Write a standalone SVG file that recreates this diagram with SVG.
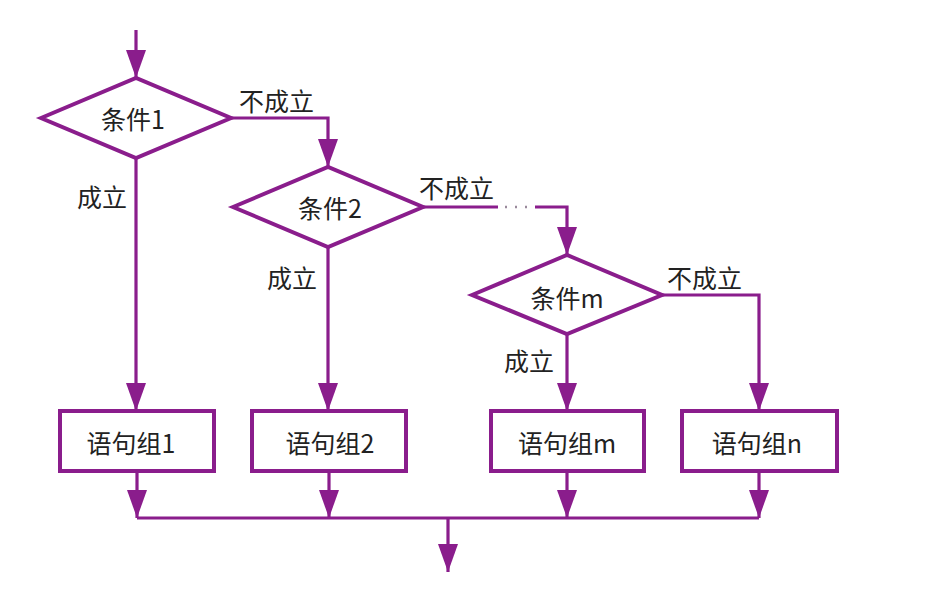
<svg xmlns="http://www.w3.org/2000/svg" width="952" height="593" viewBox="0 0 952 593">
<defs>
<marker id="ahd" markerUnits="userSpaceOnUse" markerWidth="28" markerHeight="20" refX="28" refY="10" orient="auto" viewBox="0 0 28 20">
<path d="M0,0 L28,10 L0,20 Z" fill="#8a1d8c"/>
</marker>
</defs>
<style>
.sh{fill:#fff;stroke:#8a1d8c;stroke-width:4;stroke-linejoin:miter}
.ln{fill:none;stroke:#8a1d8c;stroke-width:3.2}
.ar{marker-end:url(#ahd)}
.t{font-family:"Noto Sans CJK SC","Liberation Sans",sans-serif;font-size:25px;fill:#222;dominant-baseline:central}
.c{text-anchor:middle}
</style>
<rect width="952" height="593" fill="#ffffff"/>
<g id="connectors">
<path class="ln ar" d="M136,30 V78"/>
<path class="ln ar" d="M231,118 H328 V167"/>
<path class="ln ar" d="M136,158 V411"/>
<path class="ln" d="M423,207 H498"/>
<path class="ln" d="M505,207 H530" stroke-dasharray="2,8" style="stroke:#9a8a9c;stroke-width:2.5"/>
<path class="ln ar" d="M535,207 H567 V255"/>
<path class="ln ar" d="M328,247 V411"/>
<path class="ln ar" d="M567,334 V411"/>
<path class="ln ar" d="M662,295 H759 V411"/>
<path class="ln ar" d="M137,471 V518"/>
<path class="ln ar" d="M329,471 V518"/>
<path class="ln ar" d="M567,471 V518"/>
<path class="ln ar" d="M759,471 V518"/>
<path class="ln" d="M137,518 H759"/>
<path class="ln ar" d="M448,518 V572"/>
<text class="t" x="239" y="100">不成立</text>
<text class="t" x="77" y="196">成立</text>
<text class="t" x="419" y="187">不成立</text>
<text class="t" x="267" y="277">成立</text>
<text class="t" x="667" y="277">不成立</text>
<text class="t" x="504" y="360">成立</text>
</g>
<g id="cond1">
<polygon class="sh" points="41,118 136,78 231,118 136,158"/>
<text class="t c" x="133" y="118">条件1</text>
</g>
<g id="cond2">
<polygon class="sh" points="233,207 328,167 423,207 328,247"/>
<text class="t c" x="330" y="207">条件2</text>
</g>
<g id="condm">
<polygon class="sh" points="472,295 567,255 662,295 567,334"/>
<text class="t c" x="567" y="297">条件m</text>
</g>
<g id="stmt1">
<rect class="sh" x="60" y="411" width="154" height="60"/>
<text class="t c" x="131" y="442">语句组1</text>
</g>
<g id="stmt2">
<rect class="sh" x="252" y="411" width="154" height="60"/>
<text class="t c" x="330" y="442">语句组2</text>
</g>
<g id="stmtm">
<rect class="sh" x="491" y="411" width="153" height="60"/>
<text class="t c" x="567" y="442">语句组m</text>
</g>
<g id="stmtn">
<rect class="sh" x="682" y="411" width="155" height="60"/>
<text class="t c" x="757" y="442">语句组n</text>
</g>
</svg>
